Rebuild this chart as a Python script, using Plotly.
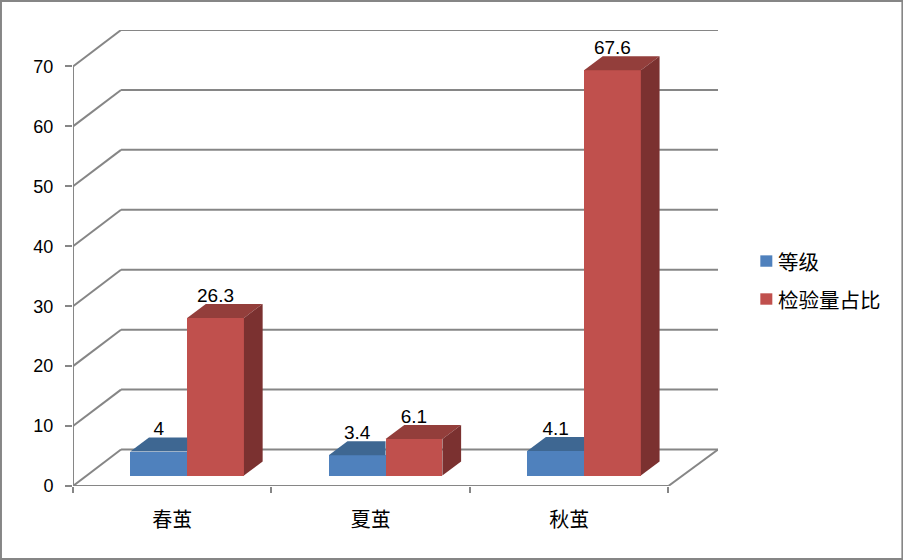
import plotly.graph_objects as go

categories = ["春茧", "夏茧", "秋茧"]
grade = [4, 3.4, 4.1]
share = [26.3, 6.1, 67.6]
series_names = ["等级", "检验量占比"]
y_ticks = [0, 10, 20, 30, 40, 50, 60, 70]

W, H = 903, 560
L, R, T, B = 73, 185.3, 30, 73.5
DX, DY = 0.242, 6.08       # oblique depth of the back wall, axis units
BDX, BDY = 0.0943, 2.33    # oblique depth of a bar
BASE = 1.75                # bar floor level (bars stand mid-depth)
CX = 0.575
BW = 0.2863
XMAX = 3.25
YMAX = 70 + DY
GRID = "#868686"
LATIN = "Liberation Sans"
CJK = "Noto Sans CJK SC"
BLUE, BLUE_TOP = "#4F81BD", "#3E6792"
RED, RED_TOP, RED_SIDE = "#C0504D", "#933E3B", "#7B3130"

fig = go.Figure()
n = len(categories)
xb = [i + CX - BW / 2 for i in range(n)]
xr = [i + CX + BW / 2 for i in range(n)]

fig.add_trace(go.Bar(x=xb, y=grade, base=BASE, width=BW, name=series_names[0],
                     marker=dict(color=BLUE, line=dict(width=0)), hoverinfo="skip"))
fig.add_trace(go.Bar(x=xr, y=share, base=BASE, width=BW, name=series_names[1],
                     marker=dict(color=RED, line=dict(width=0)), hoverinfo="skip"))


def poly(xs, ys, color):
    fig.add_trace(go.Scatter(x=xs, y=ys, mode="lines", fill="toself", fillcolor=color,
                             line=dict(width=0), showlegend=False, hoverinfo="skip"))


for i in range(n):
    top_b = BASE + grade[i]
    l, m, r = xb[i] - BW / 2, xb[i] + BW / 2, xr[i] + BW / 2
    # blue top stops where the taller red front begins
    poly([l, l + BDX, m, m, l], [top_b, top_b + BDY, top_b + BDY, top_b, top_b], BLUE_TOP)
    top_r = BASE + share[i]
    poly([m, m + BDX, r + BDX, r, m], [top_r, top_r + BDY, top_r + BDY, top_r, top_r], RED_TOP)
    poly([r, r + BDX, r + BDX, r, r], [BASE, BASE + BDY, top_r + BDY, top_r, BASE], RED_SIDE)

LABEL_UP = 3.5
fig.add_trace(go.Scatter(
    x=xb + xr,
    y=[BASE + v + LABEL_UP for v in grade + share],
    text=[str(v) for v in grade + share],
    mode="text", textposition="middle center",
    textfont=dict(family=LATIN, size=19, color="#000000"),
    showlegend=False, hoverinfo="skip"))

shapes = []


def seg(x0, y0, x1, y1):
    shapes.append(dict(type="line", x0=x0, y0=y0, x1=x1, y1=y1, xref="x", yref="y",
                       layer="below", line=dict(color=GRID, width=2)))


for v in y_ticks:
    seg(0, v, DX, v + DY)
    seg(DX, v + DY, XMAX, v + DY)
seg(0, 0, 0, 70)
seg(0, 0, 3, 0)
seg(3, 0, XMAX, DY)

pw = W - L - R
ph = H - T - B


def px_x(p):
    return (p - L) / pw


def px_y(p):
    return 1 - (p - T) / ph


shapes.append(dict(type="rect", xref="paper", yref="paper",
                   x0=px_x(1), x1=px_x(902), y0=px_y(559.5), y1=px_y(1),
                   line=dict(color=GRID, width=2), fillcolor="rgba(0,0,0,0)", layer="below"))

# Key: the swatch sits closer to its text than a native legend allows
annotations = []
for name, color, cy in zip(series_names, [BLUE, RED], [261.3, 299.3]):
    shapes.append(dict(type="rect", xref="paper", yref="paper",
                       x0=px_x(760), x1=px_x(772), y0=px_y(cy + 5.7), y1=px_y(cy - 5.7),
                       line=dict(width=0), fillcolor=color, layer="above"))
    annotations.append(dict(xref="paper", yref="paper", x=px_x(776), y=px_y(cy - 0.5), text=name,
                            showarrow=False, xanchor="left", yanchor="middle",
                            font=dict(family=CJK, size=20.5, color="#000000")))

fig.update_layout(
    width=W, height=H,
    margin=dict(l=L, r=R, t=T, b=B, pad=0),
    paper_bgcolor="white", plot_bgcolor="white",
    barmode="overlay", bargap=0,
    shapes=shapes,
    annotations=annotations,
    showlegend=False,
    xaxis=dict(range=[0, XMAX], tickmode="array", tickvals=[i + 0.5 for i in range(n)],
               ticktext=categories, ticks="", showgrid=False, zeroline=False, showline=False,
               tickfont=dict(family=CJK, size=20, color="#000000"), ticklabelstandoff=20,
               minor=dict(tickmode="array", tickvals=list(range(n + 1)), ticks="outside",
                          ticklen=6, tickwidth=2, tickcolor=GRID, showgrid=False)),
    yaxis=dict(range=[0, YMAX], tickmode="array", tickvals=y_ticks, ticks="outside", ticklen=7,
               tickwidth=2, tickcolor=GRID, showgrid=False, zeroline=False, showline=False,
               ticklabelstandoff=8, tickfont=dict(family=LATIN, size=18, color="#000000")),
)

fig.write_html("out.html", post_script="document.body.style.margin='0';document.documentElement.style.overflow='hidden';",
               config={"displayModeBar": False})
